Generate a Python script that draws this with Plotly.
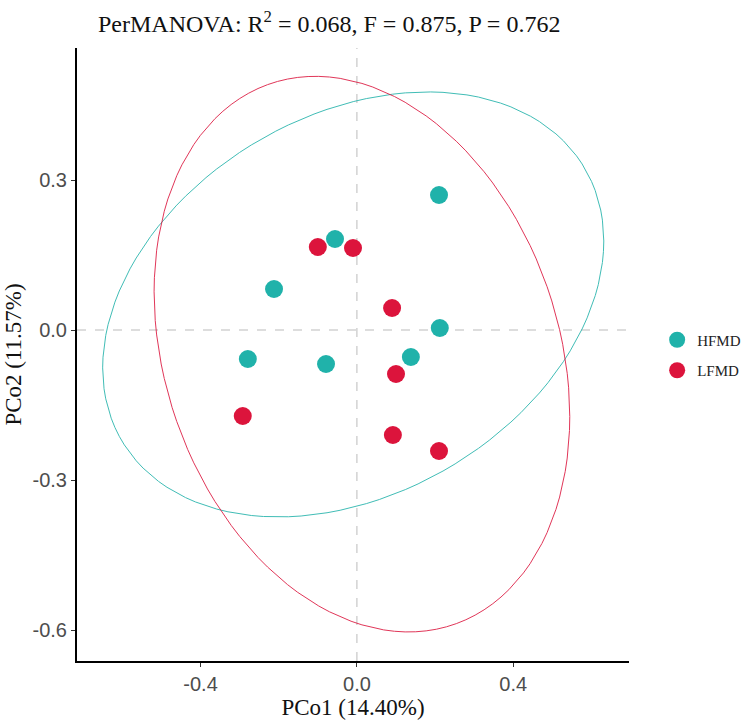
import numpy as np
import plotly.graph_objects as go

# ---- data ----
groups = ["HFMD", "LFMD"]
hfmd_x = [0.210, -0.056, -0.212, 0.212, -0.279, -0.079, 0.138]
hfmd_y = [0.270, 0.182, 0.082, 0.004, -0.058, -0.068, -0.054]
lfmd_x = [-0.100, -0.010, 0.090, 0.100, -0.292, 0.092, 0.210]
lfmd_y = [0.166, 0.164, 0.044, -0.088, -0.172, -0.210, -0.242]
group_colors = ["#20B2AA", "#DC143C"]
x_ticks = [-0.4, 0.0, 0.4]
y_ticks = [-0.6, -0.3, 0.0, 0.3]
title_text = "PerMANOVA: R<sup>2</sup> = 0.068, F = 0.875, P = 0.762"
x_title = "PCo1 (14.40%)"
y_title = "PCo2 (11.57%)"


def ellipse(xs, ys, level=0.95, segments=120):
    """95% t-based confidence ellipse (as ggplot2::stat_ellipse, sample covariance)."""
    X = np.column_stack([xs, ys])
    n = X.shape[0]
    center = X.mean(axis=0)
    cov = np.cov(X, rowvar=False)
    dfd = n - 1
    qf = dfd / 2.0 * ((1 - level) ** (-2.0 / dfd) - 1)  # F(level; 2, dfd)
    radius = np.sqrt(2 * qf)
    R = np.linalg.cholesky(cov).T
    ang = np.linspace(0, 2 * np.pi, segments + 1)
    circ = np.column_stack([np.cos(ang), np.sin(ang)])
    e = center + radius * (circ @ R)
    return e[:, 0], e[:, 1]


fig = go.Figure()
data_sets = [(hfmd_x, hfmd_y), (lfmd_x, lfmd_y)]

for (xs, ys), name, col in zip(data_sets, groups, group_colors):
    ex, ey = ellipse(xs, ys)
    fig.add_trace(go.Scatter(x=ex, y=ey, mode="lines", line=dict(color=col, width=1),
                             opacity=0.85, showlegend=False, hoverinfo="skip"))

for (xs, ys), name, col in zip(data_sets, groups, group_colors):
    fig.add_trace(go.Scatter(x=xs, y=ys, mode="markers", name=name, legendgroup=name,
                             marker=dict(color=col, size=18)))

fig.add_hline(y=0, line=dict(color="#BBBBBB", width=1, dash="dash"), layer="below")
fig.add_vline(x=0, line=dict(color="#BBBBBB", width=1, dash="dash"), layer="below")

L, R_, T, B = 77, 115, 48, 63
W, H = 744, 724
pw, ph = W - L - R_, H - T - B

fig.update_layout(
    width=W, height=H,
    margin=dict(l=L, r=R_, t=T, b=B, autoexpand=False),
    plot_bgcolor="white", paper_bgcolor="white",
    showlegend=True,
    legend=dict(x=1.051, y=(661 - 355) / ph, xanchor="left", yanchor="middle",
                font=dict(family="Liberation Serif", size=15, color="#222222"),
                itemsizing="trace", tracegroupgap=8, bgcolor="rgba(0,0,0,0)"),
)
fig.add_annotation(text=title_text, xref="paper", yref="paper",
                   x=(329 - L) / pw, y=1 + (T - 22) / ph,
                   xanchor="center", yanchor="middle", showarrow=False,
                   font=dict(family="Liberation Serif", size=24, color="#111111"))

fig.update_xaxes(range=[-0.716, 0.696], tickvals=x_ticks, ticktext=[f"{v:.1f}" for v in x_ticks],
                 showgrid=False, zeroline=False, showline=True, linecolor="black", linewidth=2,
                 ticks="outside", ticklen=4, tickcolor="#333333", automargin=False,
                 tickfont=dict(family="Liberation Sans", size=20, color="#4D4D4D"),
                 title=dict(text=x_title, font=dict(family="Liberation Serif", size=23, color="#111111"),
                            standoff=1))
fig.update_yaxes(range=[-0.662, 0.564], tickvals=y_ticks, ticktext=[f"{v:.1f}" for v in y_ticks],
                 showgrid=False, zeroline=False, showline=True, linecolor="black", linewidth=2,
                 ticks="outside", ticklen=4, tickcolor="#333333", automargin=False,
                 tickfont=dict(family="Liberation Sans", size=20, color="#4D4D4D"),
                 title=dict(text=y_title, font=dict(family="Liberation Serif", size=23, color="#111111"),
                            standoff=4))

fig.write_html("out.html")
